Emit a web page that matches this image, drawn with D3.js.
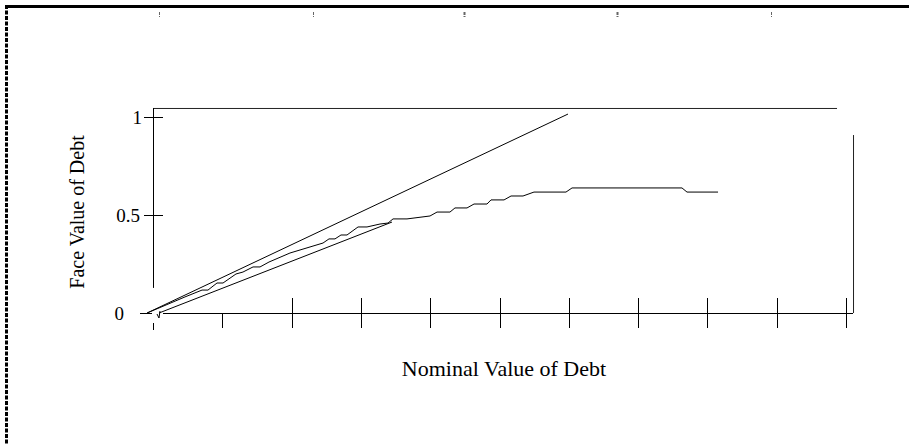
<!DOCTYPE html>
<html>
<head>
    <meta charset="utf-8">
    <title>Face Value of Debt</title>
    <script src="https://cdnjs.cloudflare.com/ajax/libs/d3/7.8.5/d3.min.js"></script>
    <style>
        body { margin: 0; background: #fff; }
        text { font-family: "Liberation Serif", "Times New Roman", serif; fill: #000; }
    </style>
</head>
<body>
<div id="chart"></div>

<script type="text/javascript">
    var width = 909,
        height = 444;

    // nominal value (x) and face value (y) of the stepped curve
    var curveX = [-0.10, 0.447, 0.693, 0.779, 0.909, 0.996, 1.183, 1.284, 1.429, 1.530, 1.659, 1.962,
                  2.439, 2.525, 2.612, 2.698, 2.785, 2.944, 3.074, 3.261, 3.377, 3.449, 3.651, 3.983,
                  4.084, 4.271, 4.343, 4.517, 4.618, 4.805, 4.863, 5.051, 5.152, 5.325, 5.483, 5.945,
                  6.032, 7.619, 7.691, 8.139];
    var curveY = [0, 0.082, 0.117, 0.117, 0.153, 0.153, 0.199, 0.209, 0.235, 0.235, 0.260, 0.306,
                  0.357, 0.378, 0.378, 0.398, 0.398, 0.439, 0.439, 0.454, 0.459, 0.480, 0.480, 0.495,
                  0.515, 0.515, 0.536, 0.536, 0.556, 0.556, 0.577, 0.577, 0.597, 0.597, 0.617, 0.617,
                  0.638, 0.638, 0.617, 0.617];

    // the two straight reference lines
    var upperX = [-0.10, 5.974],
        upperY = [0, 1.015];
    var lowerX = [0.072, 3.434],
        lowerY = [0, 0.464];

    var xTicks = d3.range(0, 11);
    var yTicks = [0, 0.5, 1];
    var yTickLabels = ["0", "0.5", "1"];
    var topTicks = [0.072, 2.294, 4.473, 6.681, 8.903];

    var svg = d3.select("#chart").append("svg")
        .attr("width", width)
        .attr("height", height);

    var x = d3.scaleLinear().domain([0, 10]).range([154, 847]);
    var y = d3.scaleLinear().domain([0, 1]).range([313, 117]);

    var line = d3.line()
        .x(function(d) { return x(d[0]); })
        .y(function(d) { return y(d[1]); });

    ////////////////////////////////////////////////////////////
    ////////////////////// Page frame //////////////////////////
    ////////////////////////////////////////////////////////////

    svg.append("line")
        .attr("x1", 5).attr("x2", width)
        .attr("y1", 6.5).attr("y2", 6.5)
        .style("stroke", "#000").style("stroke-width", 3);

    svg.append("line")
        .attr("x1", 6.5).attr("x2", 6.5)
        .attr("y1", 5).attr("y2", height)
        .style("stroke", "#000").style("stroke-width", 3)
        .style("stroke-dasharray", "4,1.5");

    svg.selectAll(".top-tick")
        .data(topTicks)
        .enter().append("line")
        .attr("class", "top-tick")
        .attr("x1", function(d) { return Math.round(x(d)) + 0.5; })
        .attr("x2", function(d) { return Math.round(x(d)) + 0.5; })
        .attr("y1", 12).attr("y2", 17)
        .style("stroke", "#666").style("stroke-width", function(d, i) { return (i == 2 || i == 3) ? 2 : 1; })
        .style("stroke-dasharray", "3,1");

    ////////////////////////////////////////////////////////////
    //////////////////////// Axes //////////////////////////////
    ////////////////////////////////////////////////////////////

    var axes = svg.append("g").style("stroke", "#000").style("stroke-width", 1);

    // box top and right side
    axes.append("line")
        .attr("x1", x(0)).attr("x2", x(9.856))
        .attr("y1", y(1.046) + 0.5).attr("y2", y(1.046) + 0.5)
        .style("stroke", "#222");
    axes.append("line")
        .attr("x1", x(10.087) + 0.5).attr("x2", x(10.087) + 0.5)
        .attr("y1", y(0.908)).attr("y2", y(0))
        .style("stroke", "#222");

    // y axis (broken near the bottom)
    axes.append("line")
        .attr("x1", x(0) - 0.5).attr("x2", x(0) - 0.5)
        .attr("y1", y(1.046)).attr("y2", y(0.128));

    // x axis
    axes.append("line")
        .attr("x1", x(0.13)).attr("x2", x(10.087))
        .attr("y1", y(0) + 0.5).attr("y2", y(0) + 0.5);

    axes.selectAll(".y-tick")
        .data(yTicks)
        .enter().append("line")
        .attr("class", "y-tick")
        .attr("x1", function(d) { return d == 0 ? 140 : 144; })
        .attr("x2", function(d) { return d == 0 ? 152 : 163; })
        .attr("y1", function(d) { return Math.round(y(d)) + 0.5; })
        .attr("y2", function(d) { return Math.round(y(d)) + 0.5; });

    axes.selectAll(".x-tick")
        .data(xTicks)
        .enter().append("line")
        .attr("class", "x-tick")
        .attr("x1", function(d) { return Math.round(x(d)) - 0.5; })
        .attr("x2", function(d) { return Math.round(x(d)) - 0.5; })
        .attr("y1", function(d) { return d == 0 ? y(0) + 10 : d == 1 ? y(0) : y(0) - 15; })
        .attr("y2", function(d) { return d == 0 ? y(0) + 17 : y(0) + 15; });

    // little mark where the lower line starts
    axes.append("path")
        .attr("d", "M" + (x(0.072) - 2) + "," + (y(0) + 1) + "L" + x(0.072) + "," + (y(0) + 5) + "L" + (x(0.072) + 1) + "," + (y(0) - 2))
        .style("fill", "none");

    svg.selectAll(".y-label")
        .data(yTicks)
        .enter().append("text")
        .attr("class", "y-label")
        .attr("x", function(d) { return d == 0 ? 124 : d == 1 ? 142 : 140; })
        .attr("y", function(d) { return y(d); })
        .attr("dy", "0.35em")
        .attr("text-anchor", "end")
        .style("font-size", "19px")
        .text(function(d, i) { return yTickLabels[i]; });

    svg.append("text")
        .attr("transform", "translate(84,212) rotate(-90)")
        .attr("text-anchor", "middle")
        .style("font-size", "20px")
        .text("Face Value of Debt");

    svg.append("text")
        .attr("x", 504)
        .attr("y", 376)
        .attr("text-anchor", "middle")
        .style("font-size", "22px")
        .text("Nominal Value of Debt");

    ////////////////////////////////////////////////////////////
    //////////////////////// Lines /////////////////////////////
    ////////////////////////////////////////////////////////////

    var lines = svg.append("g")
        .style("fill", "none")
        .style("stroke", "#000")
        .style("stroke-width", 1);

    lines.append("path")
        .attr("d", line(d3.zip(upperX, upperY)));

    lines.append("path")
        .attr("d", line(d3.zip(lowerX, lowerY)));

    lines.append("path")
        .attr("d", line(d3.zip(curveX, curveY)));

</script>
</body>
</html>
